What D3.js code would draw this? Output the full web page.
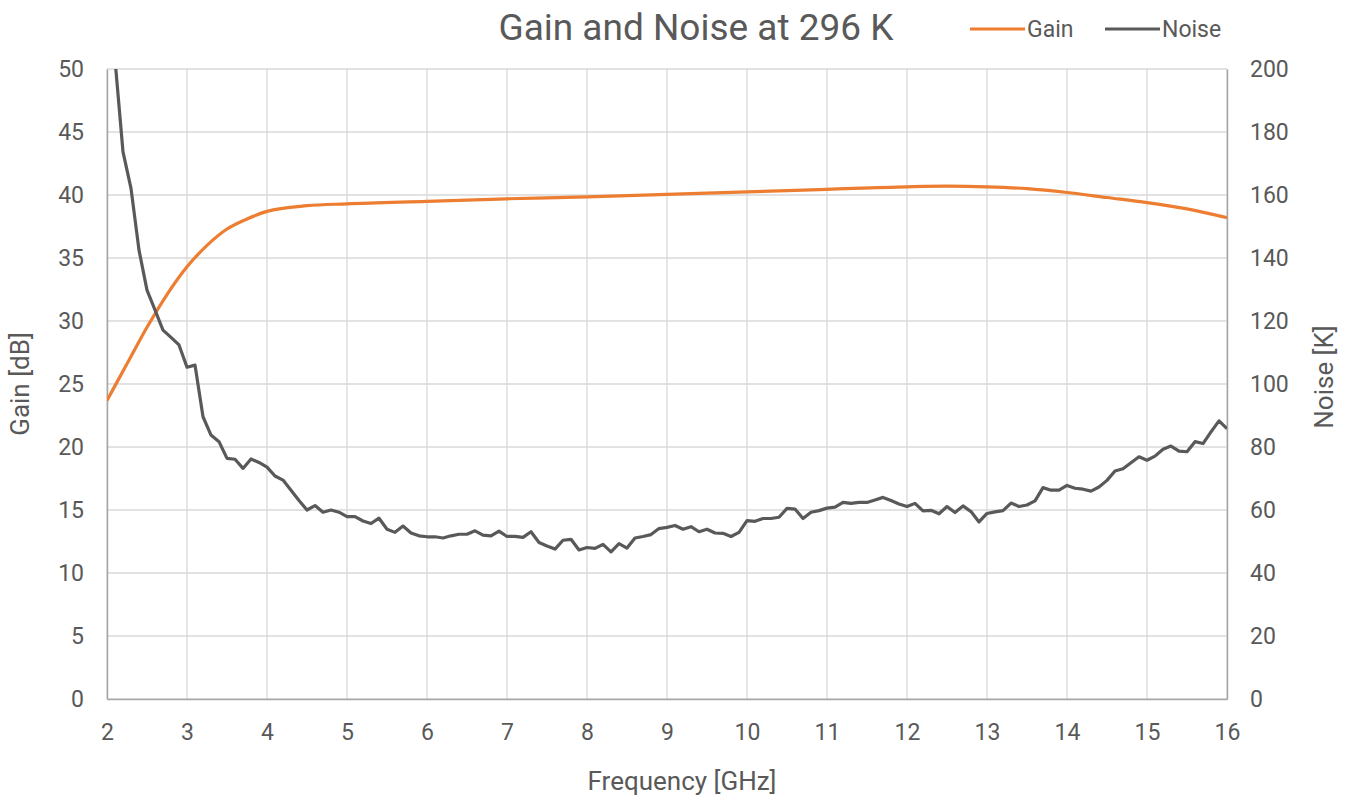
<!DOCTYPE html>
<html>
<head>
<meta charset="utf-8">
<script src="https://cdn.jsdelivr.net/npm/d3@7"></script>
<style>
  body { margin: 0; background: #fff; }
  text { font-family: Roboto, "Noto Sans", sans-serif; fill: #595959; }
</style>
</head>
<body>
<svg width="1351" height="799"></svg>
<script>
// noise, one point every 0.1 GHz from 2.0 to 16.0
var noiseFreq = d3.range(141).map(function(i){ return +(2 + i * 0.1).toFixed(1); });
var noiseK = [
  260, 203, 173.7, 162.1, 142.5, 129.8, 123.5, 117.1, 114.8, 112.4,
  105.3, 106.0, 89.6, 83.8, 81.7, 76.4, 76.1, 73.2, 76.2, 75.1,
  73.6, 70.8, 69.5, 66.3, 63.0, 60.0, 61.4, 59.3, 60.0, 59.3,
  57.9, 57.9, 56.5, 55.7, 57.4, 53.9, 52.9, 54.9, 52.7, 51.8,
  51.5, 51.5, 51.1, 51.8, 52.3, 52.3, 53.4, 52.0, 51.8, 53.3,
  51.6, 51.6, 51.3, 53.1, 49.7, 48.6, 47.6, 50.4, 50.7, 47.3,
  48.1, 47.8, 49.1, 46.7, 49.3, 47.9, 51.1, 51.6, 52.2, 54.1,
  54.5, 55.1, 53.9, 54.7, 53.1, 53.9, 52.7, 52.6, 51.6, 52.9,
  56.6, 56.4, 57.3, 57.3, 57.7, 60.5, 60.3, 57.3, 59.3, 59.8,
  60.6, 60.9, 62.4, 62.1, 62.4, 62.4, 63.2, 64.0, 63.0, 61.9,
  61.1, 62.1, 59.7, 59.9, 58.8, 61.1, 59.2, 61.3, 59.5, 56.2,
  58.9, 59.4, 59.8, 62.2, 61.1, 61.6, 62.9, 67.1, 66.3, 66.3,
  67.8, 66.9, 66.6, 66.0, 67.3, 69.4, 72.4, 73.1, 75.0, 76.9,
  75.8, 77.1, 79.3, 80.3, 78.7, 78.5, 81.7, 81.1, 84.8, 88.3,
  85.8
];

var gainFreq = [2, 2.25, 2.5, 2.75, 3, 3.25, 3.5, 3.75, 4, 4.5, 5, 6, 7, 8, 9, 10, 11, 12, 12.5, 13, 13.5, 14, 14.5, 15, 15.5, 16];
var gainDb = [23.7, 26.6, 29.5, 32.1, 34.3, 36.0, 37.3, 38.1, 38.7, 39.15, 39.3, 39.5, 39.7, 39.85, 40.05, 40.25, 40.45, 40.65, 40.7, 40.65, 40.5, 40.2, 39.8, 39.4, 38.9, 38.2];

var xTicks = d3.range(2, 17, 1);
var gainTicks = d3.range(0, 51, 5);
var noiseTicks = d3.range(0, 201, 20);

var svg = d3.select('svg');
var pl = 107, pr = 1227, pt = 69, pb = 699;

var x = d3.scaleLinear().domain([2, 16]).range([pl, pr]);
var yG = d3.scaleLinear().domain([0, 50]).range([pb, pt]);
var yN = d3.scaleLinear().domain([0, 200]).range([pb, pt]);

// grid
svg.append('g').selectAll('line').data(gainTicks).join('line')
  .attr('x1', pl).attr('x2', pr)
  .attr('y1', function(d){ return yG(d); }).attr('y2', function(d){ return yG(d); })
  .attr('stroke', '#d9d9d9').attr('stroke-width', 1.3);
svg.append('g').selectAll('line').data(xTicks).join('line')
  .attr('x1', function(d){ return x(d); }).attr('x2', function(d){ return x(d); })
  .attr('y1', pt).attr('y2', pb)
  .attr('stroke', '#d9d9d9').attr('stroke-width', 1.3);

// axes
var ax = svg.append('g').attr('transform', 'translate(0,' + pb + ')')
  .call(d3.axisBottom(x).tickValues(xTicks).tickSize(0).tickPadding(25));
var ayl = svg.append('g').attr('transform', 'translate(' + pl + ',0)')
  .call(d3.axisLeft(yG).tickValues(gainTicks).tickSize(0).tickPadding(23));
var ayr = svg.append('g').attr('transform', 'translate(' + pr + ',0)')
  .call(d3.axisRight(yN).tickValues(noiseTicks).tickSize(0).tickPadding(23));
[ax, ayl, ayr].forEach(function(g){
  g.select('.domain').attr('stroke', '#a6a6a6').attr('stroke-width', 1.5);
  g.selectAll('text').style('font-size', '23px').attr('fill', '#595959')
    .style('font-family', 'Roboto, "Noto Sans", sans-serif');
});
ax.selectAll('text').attr('dy', '0.71em');

// clip
svg.append('clipPath').attr('id', 'plot').append('rect')
  .attr('x', pl).attr('y', pt).attr('width', pr - pl).attr('height', pb - pt);

var gainLine = d3.line().curve(d3.curveMonotoneX)
  .x(function(d, i){ return x(gainFreq[i]); })
  .y(function(d){ return yG(d); });
var noiseLine = d3.line()
  .x(function(d, i){ return x(noiseFreq[i]); })
  .y(function(d){ return yN(d); });

svg.append('path').datum(gainDb).attr('d', gainLine)
  .attr('fill', 'none').attr('stroke', '#ed7d31').attr('stroke-width', 3.2)
  .attr('clip-path', 'url(#plot)');
svg.append('path').datum(noiseK).attr('d', noiseLine)
  .attr('fill', 'none').attr('stroke', '#595959').attr('stroke-width', 3.2)
  .attr('stroke-linejoin', 'round').attr('clip-path', 'url(#plot)');

// titles
svg.append('text').attr('x', 696).attr('y', 40).attr('text-anchor', 'middle')
  .style('font-size', '37px').text('Gain and Noise at 296 K');
svg.append('text').attr('x', 682).attr('y', 790).attr('text-anchor', 'middle')
  .style('font-size', '26px').text('Frequency [GHz]');
svg.append('text').attr('transform', 'translate(29,384) rotate(-90)').attr('text-anchor', 'middle')
  .style('font-size', '26px').text('Gain [dB]');
svg.append('text').attr('transform', 'translate(1333,377) rotate(-90)').attr('text-anchor', 'middle')
  .style('font-size', '26px').text('Noise [K]');

// legend
var legend = [
  { name: 'Gain', color: '#ed7d31', x: 970 },
  { name: 'Noise', color: '#595959', x: 1105 }
];
var lg = svg.append('g').selectAll('g').data(legend).join('g');
lg.append('line').attr('x1', function(d){ return d.x; }).attr('x2', function(d){ return d.x + 55; })
  .attr('y1', 29).attr('y2', 29).attr('stroke', function(d){ return d.color; }).attr('stroke-width', 3.2);
lg.append('text').attr('x', function(d){ return d.x + 57; }).attr('y', 37)
  .style('font-size', '23px').text(function(d){ return d.name; });
</script>
</body>
</html>
